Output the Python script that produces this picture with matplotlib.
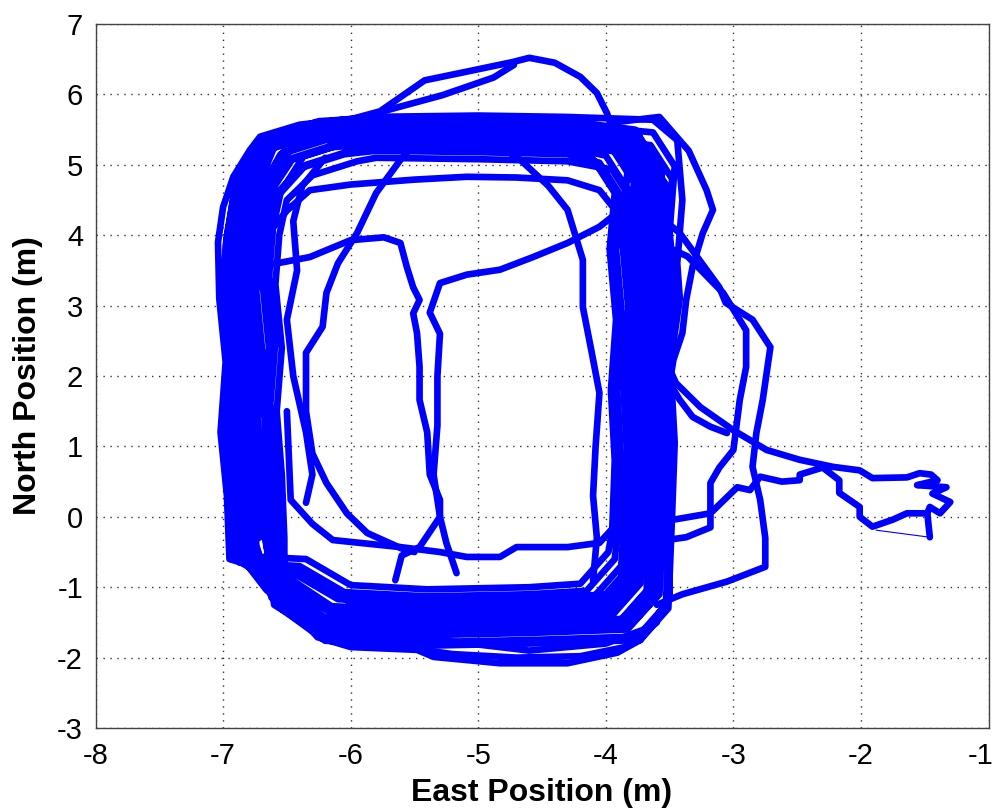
import matplotlib
matplotlib.use("Agg")
import matplotlib.pyplot as plt
import matplotlib.transforms as mtransforms

# ---- trajectory data: (east, north) in metres ----
# circuits around the room
lap_01 = [(-6.85,-0.45),(-6.87,0.4),(-6.92,1.3),(-6.88,2.2),(-6.93,3.1),(-6.90,3.9),(-6.84,4.6),(-6.65,5.25),(-6.3,5.45),(-5.8,5.5),(-5.0,5.48),(-4.3,5.45),(-3.85,5.33),(-3.68,4.85),(-3.72,4.0),(-3.67,3.0),(-3.71,2.0),(-3.68,1.0),(-3.70,0.0),(-3.73,-0.95),(-3.95,-1.4),(-4.6,-1.45),(-5.4,-1.48),(-6.2,-1.43),(-6.55,-1.0)]
lap_02 = [(-6.90,-0.6),(-6.93,0.3),(-6.97,1.2),(-6.94,2.3),(-6.99,3.2),(-6.97,4.0),(-6.90,4.7),(-6.7,5.35),(-6.35,5.55),(-5.8,5.6),(-5.0,5.58),(-4.3,5.56),(-3.75,5.43),(-3.58,4.95),(-3.62,4.0),(-3.57,3.1),(-3.61,2.1),(-3.58,1.1),(-3.60,0.0),(-3.64,-1.1),(-3.85,-1.55),(-4.6,-1.6),(-5.4,-1.63),(-6.2,-1.56),(-6.6,-1.1)]
lap_03 = [(-6.76,-0.35),(-6.78,0.5),(-6.83,1.4),(-6.79,2.1),(-6.84,3.0),(-6.81,3.8),(-6.75,4.5),(-6.55,5.15),(-6.2,5.35),(-5.8,5.4),(-5.0,5.38),(-4.3,5.35),(-3.95,5.23),(-3.78,4.75),(-3.82,3.9),(-3.77,2.9),(-3.81,1.9),(-3.78,0.9),(-3.80,-0.1),(-3.83,-0.8),(-4.05,-1.25),(-4.6,-1.3),(-5.4,-1.33),(-6.15,-1.27),(-6.5,-0.85)]
lap_04 = [(-6.95,-0.6),(-6.97,0.3),(-7.02,1.2),(-6.98,2.2),(-7.03,3.1),(-7.04,3.9),(-7.0,4.4),(-6.92,4.83),(-6.79,5.21),(-6.71,5.4),(-6.4,5.57),(-5.87,5.68),(-5.0,5.7),(-4.3,5.68),(-3.63,5.64),(-3.44,5.35),(-3.4,4.5),(-3.44,3.6),(-3.42,3.1),(-3.5,2.1),(-3.48,1.1),(-3.52,0.0),(-3.5,-1.15),(-3.73,-1.75),(-3.91,-1.93),(-4.3,-2.08),(-4.83,-2.08),(-5.35,-1.99),(-5.48,-1.89),(-6.0,-1.85),(-6.26,-1.71),(-6.4,-1.42),(-6.66,-1.04),(-6.92,-0.43),(-6.92,0.14)]
lap_05 = [(-6.72,-0.3),(-6.74,0.6),(-6.78,1.5),(-6.74,2.4),(-6.79,3.3),(-6.76,4.0),(-6.70,4.6),(-6.5,5.05),(-6.15,5.25),(-5.8,5.3),(-5.0,5.28),(-4.3,5.25),(-4.0,5.13),(-3.83,4.65),(-3.87,3.9),(-3.82,2.9),(-3.86,1.9),(-3.83,0.9),(-3.85,-0.1),(-3.88,-0.7),(-4.1,-1.15),(-4.6,-1.2),(-5.4,-1.23),(-6.1,-1.17),(-6.45,-0.8)]
lap_06 = [(-6.83,-0.5),(-6.86,0.4),(-6.9,1.3),(-6.86,2.3),(-6.91,3.2),(-6.89,4.0),(-6.82,4.65),(-6.63,5.3),(-6.28,5.5),(-5.8,5.55),(-5.0,5.53),(-4.3,5.5),(-3.8,5.38),(-3.63,4.9),(-3.67,4.0),(-3.62,3.0),(-3.66,2.0),(-3.63,1.0),(-3.65,0.0),(-3.68,-1.05),(-3.9,-1.5),(-4.6,-1.55),(-5.4,-1.58),(-6.2,-1.52),(-6.58,-1.1)]
lap_07 = [(-6.62,-0.25),(-6.64,0.6),(-6.68,1.5),(-6.64,2.4),(-6.69,3.3),(-6.66,4.0),(-6.6,4.55),(-6.4,4.95),(-6.05,5.15),(-5.8,5.2),(-5.0,5.18),(-4.3,5.15),(-4.05,5.03),(-3.88,4.55),(-3.92,3.8),(-3.87,2.8),(-3.91,1.8),(-3.88,0.8),(-3.90,-0.1),(-3.93,-0.6),(-4.15,-1.05),(-4.6,-1.1),(-5.4,-1.13),(-6.05,-1.07),(-6.4,-0.7)]
lap_08 = [(-6.87,-0.65),(-6.9,0.3),(-6.94,1.2),(-6.9,2.1),(-6.95,3.0),(-6.93,3.8),(-6.86,4.5),(-6.67,5.2),(-6.32,5.4),(-5.8,5.45),(-5.0,5.43),(-4.3,5.4),(-3.65,5.28),(-3.48,4.8),(-3.52,3.9),(-3.47,2.9),(-3.51,1.9),(-3.48,0.9),(-3.50,-0.1),(-3.53,-1.25),(-3.75,-1.7),(-4.6,-1.75),(-5.4,-1.78),(-6.2,-1.7),(-6.6,-1.25)]
lap_09 = [(-6.66,-0.4),(-6.68,0.5),(-6.73,1.4),(-6.69,2.3),(-6.74,3.2),(-6.71,3.9),(-6.65,4.55),(-6.45,5.1),(-6.1,5.3),(-5.8,5.35),(-5.0,5.33),(-4.3,5.3),(-3.9,5.18),(-3.73,4.7),(-3.77,3.9),(-3.72,2.9),(-3.76,1.9),(-3.73,0.9),(-3.75,-0.1),(-3.78,-0.85),(-4.0,-1.3),(-4.6,-1.35),(-5.4,-1.38),(-6.15,-1.32),(-6.5,-0.9)]
lap_10 = [(-6.8,-0.5),(-6.83,0.4),(-6.87,1.3),(-6.83,2.2),(-6.88,3.1),(-6.86,3.9),(-6.79,4.65),(-6.6,5.42),(-6.25,5.62),(-5.8,5.67),(-5.0,5.65),(-4.3,5.62),(-3.77,5.5),(-3.6,5.0),(-3.64,4.1),(-3.59,3.1),(-3.63,2.1),(-3.6,1.1),(-3.62,0.0),(-3.65,-1.0),(-3.87,-1.45),(-4.6,-1.5),(-5.4,-1.53),(-6.2,-1.47),(-6.57,-1.05)]
lap_11 = [(-6.57,-0.2),(-6.59,0.7),(-6.63,1.6),(-6.59,2.5),(-6.64,3.4),(-6.61,4.1),(-6.55,4.6),(-6.35,5.0),(-6.0,5.2),(-5.8,5.25),(-5.0,5.23),(-4.3,5.2),(-4.1,5.08),(-3.93,4.6),(-3.97,3.8),(-3.92,2.8),(-3.96,1.8),(-3.93,0.8),(-3.95,-0.2),(-3.98,-0.5),(-4.2,-0.95),(-4.6,-1.0),(-5.4,-1.03),(-6.0,-0.97),(-6.35,-0.6)]
lap_12 = [(-6.92,-0.55),(-6.95,0.35),(-6.99,1.25),(-6.95,2.15),(-7.0,3.05),(-6.98,3.85),(-6.92,4.55),(-6.72,5.28),(-6.37,5.48),(-5.8,5.53),(-5.0,5.51),(-4.3,5.48),(-3.73,5.36),(-3.56,4.88),(-3.6,4.0),(-3.55,3.0),(-3.59,2.0),(-3.56,1.0),(-3.58,0.0),(-3.61,-1.15),(-3.83,-1.6),(-4.6,-1.65),(-5.4,-1.68),(-6.2,-1.62),(-6.62,-1.15)]
lap_13 = [(-6.74,-0.4),(-6.76,0.5),(-6.81,1.4),(-6.77,2.3),(-6.82,3.2),(-6.79,3.95),(-6.73,4.6),(-6.53,5.18),(-6.18,5.38),(-5.8,5.43),(-5.0,5.41),(-4.3,5.38),(-3.87,5.26),(-3.7,4.78),(-3.74,3.95),(-3.69,2.95),(-3.73,1.95),(-3.7,0.95),(-3.72,-0.05),(-3.75,-0.9),(-3.97,-1.35),(-4.6,-1.4),(-5.4,-1.43),(-6.15,-1.37),(-6.52,-0.95)]
lap_14 = [(-6.52,-0.3),(-6.54,0.6),(-6.58,1.5),(-6.54,2.4),(-6.59,3.3),(-6.56,4.0),(-6.5,4.5),(-6.3,4.85),(-5.95,5.05),(-5.8,5.1),(-5.0,5.08),(-4.3,5.05),(-3.95,4.93),(-3.78,4.45),(-3.82,3.8),(-3.77,2.8),(-3.81,1.8),(-3.78,0.8),(-3.8,-0.2),(-3.83,-0.75),(-4.05,-1.2),(-4.6,-1.25),(-5.4,-1.28),(-6.0,-1.22),(-6.35,-0.8)]
lap_15 = [(-6.77,-0.7),(-6.8,0.25),(-6.84,1.15),(-6.8,2.05),(-6.85,2.95),(-6.83,3.75),(-6.76,4.55),(-6.57,5.38),(-6.22,5.58),(-5.8,5.63),(-5.0,5.61),(-4.3,5.58),(-3.63,5.46),(-3.46,4.98),(-3.5,4.05),(-3.45,3.05),(-3.49,2.05),(-3.46,1.05),(-3.48,0.05),(-3.51,-1.3),(-3.73,-1.75),(-4.6,-1.8),(-5.4,-1.83),(-6.2,-1.76),(-6.55,-1.3)]
lap_16 = [(-6.68,-0.25),(-6.7,0.6),(-6.75,1.5),(-6.71,2.4),(-6.76,3.3),(-6.73,4.0),(-6.67,4.65),(-6.47,5.22),(-6.12,5.42),(-5.8,5.47),(-5.0,5.45),(-4.3,5.42),(-3.83,5.3),(-3.66,4.82),(-3.7,3.95),(-3.65,2.95),(-3.69,1.95),(-3.66,0.95),(-3.68,-0.05),(-3.71,-0.65),(-3.93,-1.1),(-4.6,-1.15),(-5.4,-1.18),(-6.1,-1.12),(-6.45,-0.75)]
lap_17 = [(-6.88,-0.5),(-6.91,0.4),(-6.95,1.3),(-6.91,2.2),(-6.96,3.1),(-6.94,3.9),(-6.88,4.6),(-6.68,5.32),(-6.33,5.52),(-5.8,5.57),(-5.0,5.55),(-4.3,5.52),(-4.0,5.4),(-3.83,4.92),(-3.87,4.0),(-3.82,3.0),(-3.86,2.0),(-3.83,1.0),(-3.85,0.0),(-3.88,-1.0),(-4.1,-1.43),(-4.6,-1.48),(-5.4,-1.51),(-6.2,-1.45),(-6.58,-1.05)]
lap_18 = [(-6.58,-0.5),(-6.61,0.4),(-6.65,1.3),(-6.61,2.2),(-6.66,3.1),(-6.63,3.9),(-6.57,4.55),(-6.37,5.12),(-6.02,5.32),(-5.8,5.37),(-5.0,5.35),(-4.3,5.32),(-3.7,5.2),(-3.53,4.72),(-3.57,3.9),(-3.52,2.9),(-3.56,1.9),(-3.53,0.9),(-3.55,-0.1),(-3.58,-1.1),(-3.8,-1.53),(-4.6,-1.58),(-5.4,-1.61),(-6.15,-1.55),(-6.5,-1.1)]

# wider swings along the bottom
low_arc_a = [(-6.5,-1.3),(-6.1,-1.75),(-5.6,-1.85),(-5.2,-1.95),(-4.7,-2.0),(-4.2,-1.98),(-3.85,-1.85),(-3.6,-1.5)]
low_arc_b = [(-6.62,-1.0),(-6.3,-1.55),(-5.9,-1.7),(-5.3,-1.75),(-4.6,-1.9),(-4.0,-1.8),(-3.7,-1.6)]

# excursions over the top
top_bump_a = [(-6.3,5.5),(-5.77,5.76),(-5.42,6.2),(-5.1,6.32),(-4.73,6.46),(-4.6,6.52),(-4.4,6.45),(-4.2,6.25),(-4.07,6.02),(-3.99,5.73),(-3.95,5.5)]
top_bump_b = [(-6.5,5.45),(-5.97,5.65),(-5.28,5.99),(-4.88,6.24),(-4.72,6.42)]

# wide turns on the east side
east_loop_a = [(-3.95,5.6),(-3.58,5.68),(-3.35,5.2),(-3.21,4.64),(-3.16,4.36),(-3.24,4.03),(-3.32,3.55),(-3.37,3.08),(-3.4,2.61),(-3.47,2.23),(-3.5,1.9),(-3.42,1.66),(-3.32,1.42),(-3.18,1.28),(-3.05,1.19)]
east_loop_b = [(-3.6,4.3),(-3.42,4.03),(-3.11,3.26),(-3.06,3.04),(-2.85,2.8),(-2.71,2.41),(-2.77,1.66),(-2.82,1.19),(-2.85,0.71),(-2.79,0.24),(-2.75,-0.3),(-2.75,-0.71),(-3.05,-0.92),(-3.4,-1.1),(-3.6,-1.25)]
east_loop_c = [(-3.6,3.9),(-3.36,3.7),(-3.08,3.18),(-2.9,2.65),(-2.9,2.13),(-2.95,1.66),(-3.0,0.95),(-3.11,0.7),(-3.18,0.48),(-3.18,-0.15),(-3.37,-0.29),(-3.6,-0.35)]

# start / finish area to the east
tail = [(-3.55,2.3),(-3.45,1.9),(-3.26,1.56),(-3.0,1.23),(-2.74,0.95),(-2.48,0.81),(-2.22,0.71),(-2.01,0.66),(-1.91,0.55),(-1.64,0.56),(-1.54,0.62),(-1.45,0.6),(-1.40,0.52),(-1.56,0.45),(-1.33,0.42),(-1.44,0.33),(-1.30,0.21),(-1.38,0.05),(-1.46,0.14),(-1.48,0.05),(-1.64,0.05),(-1.75,-0.04),(-1.91,-0.14),(-2.01,0.0),(-2.01,0.14),(-2.17,0.34),(-2.17,0.52),(-2.3,0.7),(-2.48,0.6),(-2.48,0.52),(-2.62,0.5),(-2.79,0.57),(-2.87,0.38),(-2.97,0.42),(-3.18,0.05),(-3.5,-0.05)]
tail_end = [(-1.48,0.05),(-1.46,-0.29)]
dropout_gap = [(-1.46,-0.29),(-1.88,-0.19)]

# cuts through the middle of the room
cut_west_curve = [(-5.45,5.4),(-5.61,5.07),(-5.8,4.6),(-5.95,4.03),(-6.1,3.6),(-6.19,3.18),(-6.22,2.7),(-6.35,2.33),(-6.35,1.5),(-6.3,0.9),(-6.19,0.48),(-6.03,0.05),(-5.87,-0.23),(-5.6,-0.45),(-5.5,-0.5)]
cut_east_curve = [(-4.9,5.35),(-4.67,5.07),(-4.45,4.7),(-4.3,4.36),(-4.18,3.65),(-4.18,2.98),(-4.11,2.33),(-4.05,1.76),(-4.08,1.0),(-4.1,0.3),(-4.07,-0.3),(-4.1,-0.9)]
cut_north = [(-6.7,3.9),(-6.5,4.35),(-6.32,4.64),(-6.0,4.72),(-5.5,4.79),(-5.09,4.83),(-4.7,4.82),(-4.3,4.78),(-4.05,4.64),(-3.9,4.3),(-3.85,3.8)]
cut_centre = [(-6.9,3.5),(-6.58,3.6),(-6.32,3.69),(-6.0,3.93),(-5.74,3.97),(-5.61,3.89),(-5.56,3.55),(-5.51,3.26),(-5.46,3.08),(-5.51,2.89),(-5.48,2.61),(-5.46,2.13),(-5.46,1.66),(-5.4,1.2),(-5.38,0.6),(-5.3,0.24),(-5.3,0.0),(-5.46,-0.43),(-5.6,-0.55),(-5.65,-0.9)]
cut_diagonal = [(-5.17,-0.8),(-5.25,-0.37),(-5.3,0.0),(-5.35,0.6),(-5.32,1.3),(-5.32,2.0),(-5.3,2.6),(-5.38,2.9),(-5.3,3.32),(-5.09,3.44),(-4.83,3.51),(-4.57,3.69),(-4.3,3.89),(-4.05,4.12),(-3.91,4.32),(-3.8,4.6)]
cut_south = [(-6.5,1.5),(-6.47,0.24),(-6.3,-0.1),(-6.14,-0.33),(-5.61,-0.43),(-5.3,-0.5),(-5.09,-0.57),(-4.83,-0.57),(-4.7,-0.43),(-4.3,-0.43),(-4.05,-0.37),(-3.94,-0.15),(-3.9,0.3)]
cut_west_inner = [(-6.2,5.1),(-6.38,4.7),(-6.45,4.2),(-6.42,3.5),(-6.5,2.8),(-6.45,2.0),(-6.35,1.2),(-6.3,0.6),(-6.35,0.2)]

# the circuits are driven one after another as a single track
circuit = (lap_01 + lap_02 + lap_03 + lap_04 + lap_05 + lap_06 + lap_07 + lap_08 + lap_09
           + lap_10 + lap_11 + lap_12 + lap_13 + lap_14 + lap_15 + lap_16 + lap_17 + lap_18)

routes = [circuit, low_arc_a, low_arc_b, top_bump_a, top_bump_b,
          east_loop_a, east_loop_b, east_loop_c, tail, tail_end,
          cut_west_curve, cut_east_curve, cut_north, cut_centre, cut_diagonal,
          cut_south, cut_west_inner]

x_ticks = [-8, -7, -6, -5, -4, -3, -2, -1]
y_ticks = [-3, -2, -1, 0, 1, 2, 3, 4, 5, 6, 7]

plt.rcParams['font.family'] = ['Liberation Sans', 'DejaVu Sans']

fig = plt.figure(figsize=(9.93, 8.09), dpi=100)
ax = fig.add_axes([0.0962, 0.1001, 0.8993, 0.8702])

blue = '#0000ff'
for r in routes:
    e = [p[0] for p in r]
    n = [p[1] for p in r]
    ax.plot(e, n, color=blue, lw=4.8, solid_joinstyle='round', solid_capstyle='round')
ax.plot([p[0] for p in dropout_gap], [p[1] for p in dropout_gap], color=blue, lw=0.8)

ax.set_xlim(-8, -1)
ax.set_ylim(-3, 7)
ax.set_xticks(x_ticks)
ax.set_yticks(y_ticks)
ax.set_xticklabels([str(v) for v in x_ticks])
ax.set_yticklabels([str(v) for v in y_ticks])
ax.tick_params(axis='both', length=0, labelsize=21)
ax.tick_params(axis='x', pad=10)
ax.tick_params(axis='y', pad=9)
# keep the last east label inside the figure edge
last = ax.get_xticklabels()[-1]
last.set_horizontalalignment('right')
last.set_transform(last.get_transform() + mtransforms.ScaledTranslation(5 / 100, 0, fig.dpi_scale_trans))

ax.grid(True, linestyle=(0, (1, 4)), color='#333333', linewidth=1.0)
ax.set_axisbelow(True)
for s in ax.spines.values():
    s.set_color('#444444')
    s.set_linewidth(1.0)

ax.set_xlabel('East Position (m)', fontsize=23, fontweight='bold', labelpad=6)
ax.set_ylabel('North Position (m)', fontsize=23, fontweight='bold', labelpad=10)

fig.savefig('out.png', dpi=100)
